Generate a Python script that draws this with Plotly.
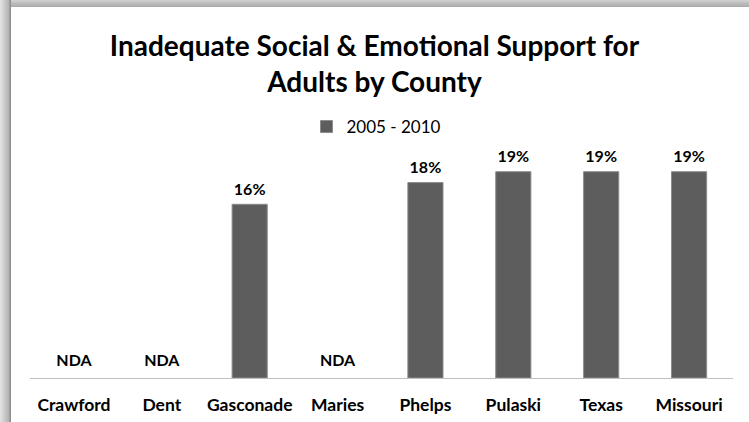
import plotly.graph_objects as go

counties = ["Crawford", "Dent", "Gasconade", "Maries", "Phelps", "Pulaski", "Texas", "Missouri"]
values = [None, None, 16, None, 18, 19, 19, 19]
series_name = "2005 - 2010"
title_text = "Inadequate Social & Emotional Support for<br>Adults by County"
missing_label = "NDA"

FONT = "Lato"
BAR = "#5d5d5d"

W, H = 749, 422
ML, MR, MT, MB = 30, 16, 150, 44
PW, PH = W - ML - MR, H - MT - MB

label_y = [v if v is not None else 0 for v in values]
label_text = [f"{v}%" if v is not None else missing_label for v in values]
# invisible markers set the gap between each label and its anchor
label_pad = [7 if v is not None else 11 for v in values]

fig = go.Figure()
fig.add_trace(go.Bar(
    x=counties, y=values, name=series_name,
    marker=dict(color=BAR, line=dict(color="#8c8c8c", width=1)),
    hoverinfo="x+y",
))
fig.add_trace(go.Scatter(
    x=counties, y=label_y, mode="markers+text", text=label_text,
    marker=dict(size=label_pad, opacity=0), hoverinfo="skip",
    textposition="top center", showlegend=False, cliponaxis=False,
    textfont=dict(family=FONT, size=16, color="black", weight="bold"),
))

fig.update_layout(
    width=W, height=H,
    margin=dict(l=ML, r=MR, t=MT, b=MB, autoexpand=False),
    paper_bgcolor="rgba(0,0,0,0)", plot_bgcolor="white",
    title=dict(text=title_text, x=0.5, xanchor="center", y=0.868, yanchor="top",
               font=dict(family=FONT, size=28, color="black", weight="bold")),
    bargap=0.6,
    showlegend=True,
    legend=dict(orientation="h", x=0.5 - 5 / PW, xanchor="center", y=(H - MB - 127) / PH,
                yanchor="middle", font=dict(family=FONT, size=17, color="black"),
                itemwidth=30, bgcolor="rgba(0,0,0,0)"),
    xaxis=dict(showline=True, linecolor="#bfbfbf", linewidth=1, ticks="",
               ticklabelstandoff=11, automargin=False,
               tickfont=dict(family=FONT, size=17.5, color="black", weight="bold"),
               showgrid=False, fixedrange=True),
    yaxis=dict(range=[0, 21], visible=False, showgrid=False, fixedrange=True,
               automargin=False),
)

# white card with a soft shadow along its top and left edges behind the figure
page_style = (
    "var gd=document.getElementById('{plot_id}');"
    "document.body.style.margin='0';"
    "document.body.style.overflow='hidden';"
    "gd.style.background="
    "'linear-gradient(to right,#e4e4e4 0px,#b2b2b2 9px,#8e8e8e 10px,#8e8e8e 11px,rgba(255,255,255,0) 11px),"
    "linear-gradient(to bottom,#d2d2d2 0px,#a8a8a8 7px,rgba(255,255,255,0) 7px),#ffffff';"
)

fig.write_html("out.html", config={"displayModeBar": False}, post_script=page_style)
